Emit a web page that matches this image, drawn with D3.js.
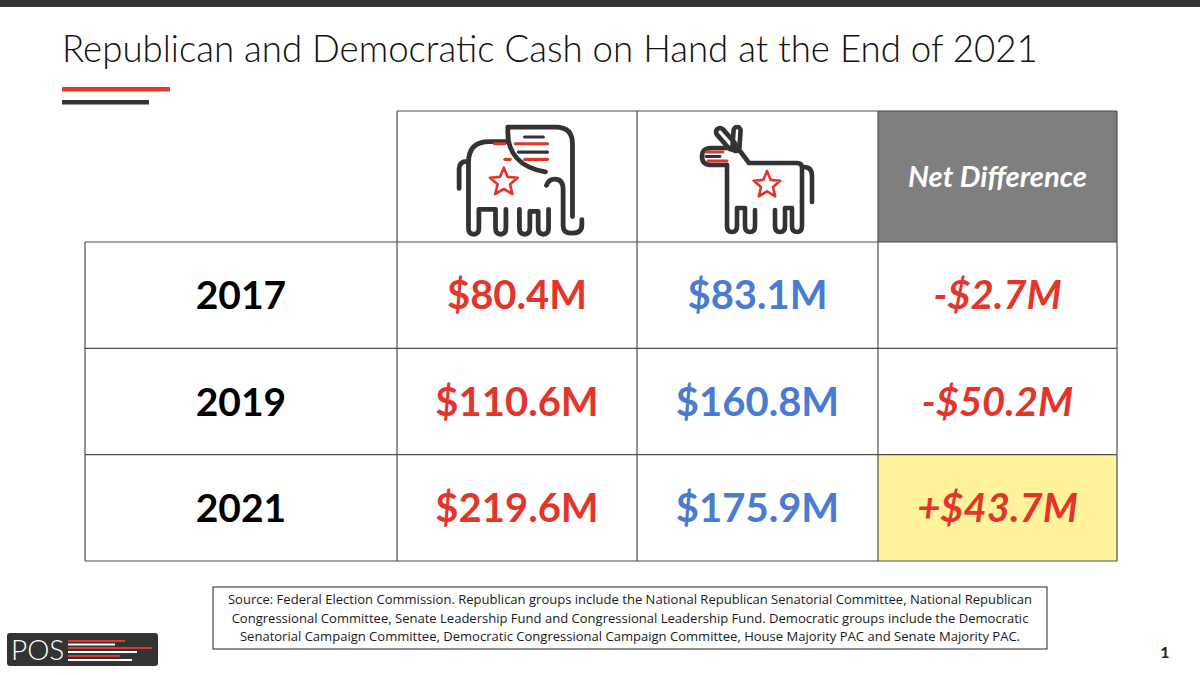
<!DOCTYPE html>
<html lang="en">
<head>
<meta charset="UTF-8">
<title>Republican and Democratic Cash on Hand at the End of 2021</title>
<script src="https://cdn.jsdelivr.net/npm/d3@7"></script>
<style>
  body { margin: 0; background: #fff; }
  svg { display: block; font-family: Lato, "Open Sans", sans-serif; }
</style>
</head>
<body>
<div id="chart"></div>
<script>
  // data
  const years = ["2017", "2019", "2021"];
  const repCash = [80.4, 110.6, 219.6];
  const demCash = [83.1, 160.8, 175.9];
  const netDiff = [-2.7, -50.2, 43.7];
  const sourceLines = [
    "Source: Federal Election Commission. Republican groups include the National Republican Senatorial Committee, National Republican",
    "Congressional Committee, Senate Leadership Fund and Congressional Leadership Fund. Democratic groups include the Democratic",
    "Senatorial Campaign Committee, Democratic Congressional Campaign Committee, House Majority PAC and Senate Majority PAC."
  ];

  const width = 1200, height = 675;
  const RED = "#e2362c", BLUE = "#4a7bd2", DARK = "#333333", GRID = "#4d4d4d";

  const svg = d3.select("#chart").append("svg")
      .attr("width", width)
      .attr("height", height);

  // shrink or grow a text so it spans w pixels
  function fit(sel, w) {
    const len = sel.node().getComputedTextLength();
    const fs = parseFloat(sel.attr("font-size"));
    sel.attr("font-size", fs * w / len);
    return fs * w / len;
  }

  // header band and title
  svg.append("rect").attr("width", width).attr("height", 7).attr("fill", "#333");
  const title = svg.append("text")
      .attr("x", 62).attr("y", 62)
      .attr("font-size", 36).attr("font-weight", 300)
      .attr("fill", "#111")
      .text("Republican and Democratic Cash on Hand at the End of 2021");
  fit(title, 976);
  svg.append("rect").attr("x", 62).attr("y", 87).attr("width", 108).attr("height", 4.5).attr("fill", "#e53a30");
  svg.append("rect").attr("x", 62).attr("y", 100).attr("width", 87).attr("height", 4.5).attr("fill", DARK);

  // table layout
  const colEdges = [85, 397, 637, 878, 1117];
  const headTop = 111;
  const y = d3.scaleBand().domain(years).range([242, 561]);
  const cx = i => (colEdges[i] + colEdges[i + 1]) / 2;

  const fmt = v => "$" + d3.format(".1f")(Math.abs(v)) + "M";
  const fmtNet = v => (v < 0 ? "-" : "+") + fmt(v);

  const g = svg.append("g");

  // cell fills
  g.append("rect")
      .attr("x", colEdges[3]).attr("y", headTop)
      .attr("width", colEdges[4] - colEdges[3]).attr("height", y.range()[0] - headTop)
      .attr("fill", "#7f7f7f");
  g.selectAll("rect.hl")
      .data(years.filter((d, i) => netDiff[i] > 0))
      .join("rect")
      .attr("class", "hl")
      .attr("x", colEdges[3]).attr("y", d => y(d))
      .attr("width", colEdges[4] - colEdges[3]).attr("height", y.bandwidth())
      .attr("fill", "#fff39b");

  // grid lines
  const grid = g.append("g").attr("stroke", GRID).attr("stroke-width", 1.2).attr("fill", "none");
  grid.append("line").attr("x1", colEdges[1]).attr("x2", colEdges[4]).attr("y1", headTop).attr("y2", headTop);
  [...years.map(d => y(d)), y.range()[1]].forEach(yy => {
    grid.append("line").attr("x1", colEdges[0]).attr("x2", colEdges[4]).attr("y1", yy).attr("y2", yy);
  });
  colEdges.forEach((xx, i) => {
    grid.append("line").attr("x1", xx).attr("x2", xx)
        .attr("y1", i === 0 ? y.range()[0] : headTop).attr("y2", y.range()[1]);
  });

  const head = g.append("text")
      .attr("x", cx(3)).attr("y", 187)
      .attr("text-anchor", "middle")
      .attr("font-size", 24).attr("font-weight", 700).attr("font-style", "italic")
      .attr("fill", "#fff")
      .text("Net Difference");
  fit(head, 179);

  // rows
  const rows = g.selectAll("g.row")
      .data(years.map((d, i) => ({ year: d, rep: repCash[i], dem: demCash[i], net: netDiff[i] })))
      .join("g")
      .attr("class", "row")
      .attr("transform", d => `translate(0,${y(d.year) + y.bandwidth() / 2 + 14})`);

  rows.append("text").attr("x", cx(0)).attr("text-anchor", "middle")
      .attr("font-size", 39).attr("font-weight", 700).attr("fill", "#000")
      .text(d => d.year);
  rows.append("text").attr("x", cx(1)).attr("text-anchor", "middle")
      .attr("font-size", 40).attr("font-weight", 700).attr("fill", RED)
      .text(d => fmt(d.rep));
  rows.append("text").attr("x", cx(2)).attr("text-anchor", "middle")
      .attr("font-size", 40).attr("font-weight", 700).attr("fill", BLUE)
      .text(d => fmt(d.dem));
  rows.append("text").attr("x", cx(3)).attr("text-anchor", "middle")
      .attr("font-size", 40).attr("font-weight", 700).attr("font-style", "italic").attr("fill", RED)
      .text(d => fmtNet(d.net));

  // star outline
  function star(cxs, cys, r) {
    const pts = d3.range(10).map(k => {
      const a = -Math.PI / 2 + k * Math.PI / 5;
      const rr = k % 2 ? r * 0.45 : r;
      return [cxs + rr * Math.cos(a), cys + rr * Math.sin(a)];
    });
    return "M" + pts.join("L") + "Z";
  }

  // elephant
  const el = svg.append("g").attr("transform", "translate(456,124) scale(1.04)")
      .attr("fill", "none").attr("stroke-linecap", "round").attr("stroke-linejoin", "round");
  const elDark = [
    "M3,62 V43 Q3,36 11,36",
    "M50,17 H32 Q12,17 12,37 V100 Q12,106 17,106 Q22,106 22,100 V82 H38 V100 Q38,106 43,106 Q48,106 48,100 V82",
    "M61,82 V100 Q61,106 66,106 Q71,106 71,100 V84 H79 V100 Q79,106 84,106 Q89,106 89,100 V82",
    "M50,3 H96 Q112,3 112,19 V89",
    "M50,3 C48,28 62,42 86,46",
    "M87,59 Q89,53 95,53 Q103,53 103,63 V98 Q103,105 111,105 Q121,105 121,97 V92"
  ];
  el.selectAll("path.d").data(elDark).join("path").attr("class", "d")
      .attr("d", d => d).attr("stroke", DARK).attr("stroke-width", 4.6);
  const elStripes = [
    [66, 84, 12.5, DARK], [37, 47, 19, RED], [57, 88, 19, RED],
    [60, 88, 27, DARK], [47, 52, 34, RED], [66, 88, 34, RED]
  ];
  el.selectAll("line").data(elStripes).join("line")
      .attr("x1", d => d[0]).attr("x2", d => d[1]).attr("y1", d => d[2]).attr("y2", d => d[2])
      .attr("stroke", d => d[3]).attr("stroke-width", 3);
  el.append("path").attr("d", star(46, 56, 14)).attr("stroke", RED).attr("stroke-width", 2.6);

  // donkey
  const dk = svg.append("g").attr("transform", "translate(696,124)")
      .attr("fill", "none").attr("stroke-linecap", "round").attr("stroke-linejoin", "round")
      .attr("stroke", DARK).attr("stroke-width", 4.6);
  dk.append("rect").attr("x", -4).attr("y", -4).attr("width", 26).attr("height", 8).attr("rx", 4)
      .attr("transform", "translate(24,8) rotate(49)");
  dk.append("rect").attr("x", 37).attr("y", 3).attr("width", 7).attr("height", 24).attr("rx", 3.5)
      .attr("transform", "rotate(4,40,15)");
  const dkDark = [
    "M38,24 H15 Q6,24 6,32.5 Q6,41 15,41 H31",
    "M31,41 V102 Q31,108 36,108 Q41,108 41,102 V84 H49 V102 Q49,108 54,108 Q59,108 59,102 V86",
    "M79,86 V102 Q79,108 84,108 Q89,108 89,102 V84 H96 V102 Q96,108 101,108 Q106,108 106,102 V44 Q106,39 101,39 H53 L44,27",
    "M108,43 Q116,43 116,52 V78"
  ];
  dk.selectAll("path.d").data(dkDark).join("path").attr("class", "d").attr("d", d => d);
  const dkStripes = [[10, 27, 28, RED], [10, 24, 32.5, DARK], [12, 31, 37, RED]];
  dk.selectAll("line").data(dkStripes).join("line")
      .attr("x1", d => d[0]).attr("x2", d => d[1]).attr("y1", d => d[2]).attr("y2", d => d[2])
      .attr("stroke", d => d[3]).attr("stroke-width", 2.8);
  dk.append("path").attr("d", star(71, 61, 14)).attr("stroke", RED).attr("stroke-width", 2.6);

  // source box
  svg.append("rect").attr("x", 213).attr("y", 587).attr("width", 834).attr("height", 62)
      .attr("fill", "#fff").attr("stroke", "#222").attr("stroke-width", 1);
  const src = svg.append("g").attr("font-family", "'Open Sans', sans-serif").attr("fill", "#1a1a1a");
  const first = src.append("text").attr("x", 630).attr("y", 604)
      .attr("text-anchor", "middle").attr("font-size", 12).text(sourceLines[0]);
  const fs = fit(first, 805);
  src.selectAll("text.more").data(sourceLines.slice(1)).join("text").attr("class", "more")
      .attr("x", 630).attr("y", (d, i) => 623 + i * 18)
      .attr("text-anchor", "middle").attr("font-size", fs).text(d => d);

  // logo
  const logo = svg.append("g");
  logo.append("rect").attr("x", 7).attr("y", 633).attr("width", 151).attr("height", 33).attr("rx", 3).attr("fill", "#333");
  logo.append("text").attr("x", 11).attr("y", 660).attr("font-size", 28).attr("font-weight", 300)
      .attr("fill", "#fff").text("POS");
  const logoLines = [[125, 641, RED], [115, 644.5, "#fff"], [152, 648, RED], [137, 652, "#fff"], [120, 656, RED], [132, 660, "#fff"]];
  logo.selectAll("line").data(logoLines).join("line")
      .attr("x1", 68).attr("x2", d => d[0]).attr("y1", d => d[1]).attr("y2", d => d[1])
      .attr("stroke", d => d[2]).attr("stroke-width", 1.8);

  // page number
  svg.append("text").attr("x", 1165).attr("y", 658).attr("text-anchor", "middle")
      .attr("font-size", 16).attr("font-weight", 700).attr("fill", "#222").text("1");
</script>
</body>
</html>
